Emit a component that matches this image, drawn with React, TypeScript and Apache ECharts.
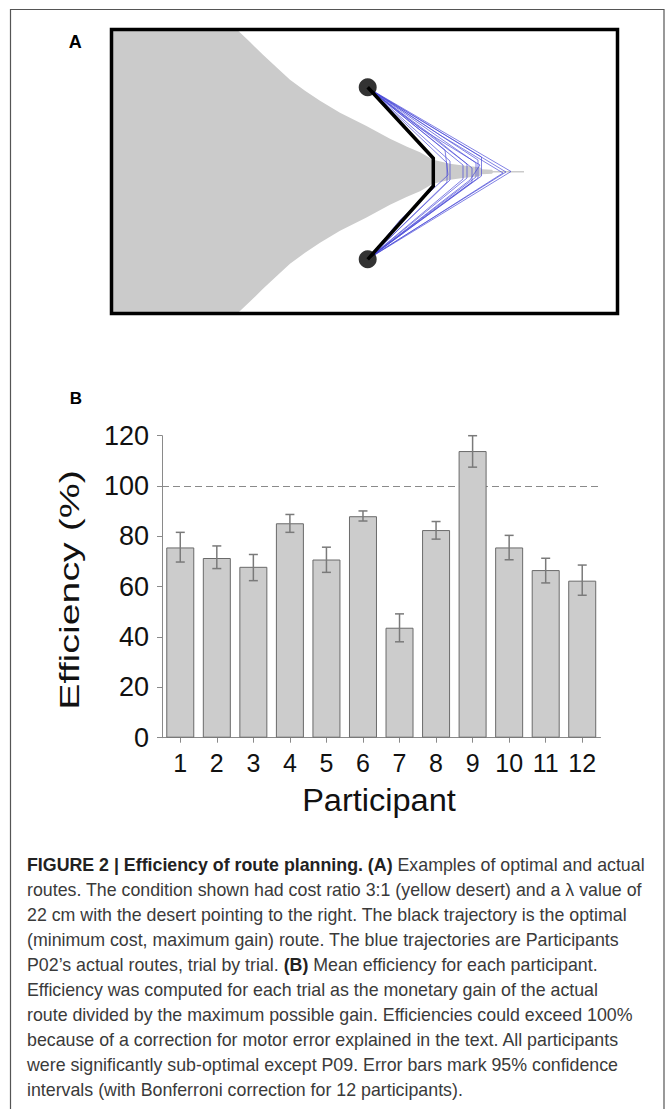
import React, { useEffect, useRef } from "react";
import * as echarts from "echarts";

// ---------- Panel B data ----------
const participants = ["1", "2", "3", "4", "5", "6", "7", "8", "9", "10", "11", "12"];
const efficiency = [75.6, 71.4, 67.9, 85.2, 70.8, 88.0, 43.7, 82.5, 113.9, 75.6, 66.6, 62.4];
const ciLow = [69.8, 67.2, 62.4, 81.6, 65.7, 86.1, 38.1, 78.9, 107.5, 70.7, 61.5, 56.6];
const ciHigh = [81.6, 76.2, 72.8, 88.7, 75.7, 90.1, 49.2, 85.9, 120.0, 80.4, 71.3, 68.6];
const yMin = 0;
const yMax = 120;
const yInterval = 20;
const optimalLevel = 100;

// ---------- Panel A data (field units) ----------
const fieldWidth = 506;
const fieldHeight = 284;
const fieldCenterY = 142.3;
const desertEdgeX = [125.3, 138.5, 151.5, 165.5, 178.5, 193.5, 208.5, 228.5, 254.5, 278.5, 295.5, 308.5, 321.5, 338.5, 353.5, 368.5, 370.5, 380.5, 381.5, 412.5];
const desertHalfWidth = [142.3, 129.8, 117, 104, 92, 81, 71, 59, 46, 33, 25, 19.5, 12, 8, 6, 4.5, 2.5, 2, 0.8, 0.8];
const startPoint = [256.2, 57.8];
const goalPoint = [256.2, 229.8];
const optimalRoute = [[256.2, 57.8], [321.8, 128.8], [321.8, 156.5], [256.2, 229.8]];
const actualRoutes = [
  [[256.5, 58.5], [399.5, 142], [256.5, 229.5]],
  [[257.5, 59.5], [394.5, 142.5], [257.5, 228.5]],
  [[256.5, 58.5], [328.5, 105.5], [391.5, 143.5], [256.5, 229.5]],
  [[256.5, 58.5], [370, 127.5], [370, 146.5], [256.5, 229.5]],
  [[256.5, 58.5], [366.5, 130.5], [366.5, 148.5], [256.5, 229.5]],
  [[256.5, 58.5], [364.5, 133.5], [364.5, 147.5], [257.5, 228.5]],
  [[256.5, 58.5], [355.5, 134.5], [355.5, 148.5], [256.5, 229.5]],
  [[256.5, 58.5], [351.5, 135.5], [351.5, 149.5], [256.5, 229.5]],
  [[256.5, 58.5], [338.5, 131.5], [338.5, 150.5], [256.5, 229.5]],
  [[256.5, 58.5], [335.5, 133.5], [335.5, 152.5], [256.5, 229.5]],
  [[256.5, 58.5], [308.5, 98.5], [368.5, 135.5], [358.5, 150.5], [256.5, 229.5]],
  [[256.5, 58.5], [333.5, 120.5], [336.5, 145.5], [288.5, 190.5], [256.5, 229.5]],
  [[256.5, 58.5], [318.5, 104.5], [360.5, 138.5], [360.5, 152.5], [300.5, 196.5], [256.5, 229.5]],
];

// ---------- Caption ----------
const captionLines = [
  "{b|FIGURE 2 | Efficiency of route planning. (A)} Examples of optimal and actual",
  "routes. The condition shown had cost ratio 3:1 (yellow desert) and a λ value of",
  "22 cm with the desert pointing to the right. The black trajectory is the optimal",
  "(minimum cost, maximum gain) route. The blue trajectories are Participants",
  "P02’s actual routes, trial by trial. {b|(B)} Mean efficiency for each participant.",
  "Efficiency was computed for each trial as the monetary gain of the actual",
  "route divided by the maximum possible gain. Efficiencies could exceed 100%",
  "because of a correction for motor error explained in the text. All participants",
  "were significantly sub-optimal except P09. Error bars mark 95% confidence",
  "intervals (with Bonferroni correction for 12 participants).",
];

const FONT = "'Liberation Sans', Arial, Helvetica, sans-serif";
const CAPTION_SIZE = 17.8;

// layout
const gridA = { left: 111.5, top: 29.5, width: fieldWidth, height: fieldHeight };
const gridB = { left: 162, top: 435.7, width: 438.5, height: 302 };

export default function App() {
  const ref = useRef<HTMLDivElement>(null);

  useEffect(() => {
    if (!ref.current) return;
    const chart = echarts.init(ref.current, undefined, { renderer: "svg" });

    const desertPolygon: number[][] = [[0, 0]];
    desertEdgeX.forEach((x, i) => desertPolygon.push([x, fieldCenterY - desertHalfWidth[i]]));
    desertEdgeX.slice().reverse().forEach((x, j) => {
      const i = desertEdgeX.length - 1 - j;
      desertPolygon.push([x, fieldCenterY + desertHalfWidth[i]]);
    });
    desertPolygon.push([0, fieldHeight]);

    const routeSeries = actualRoutes.map((r) => ({
      type: "line",
      xAxisIndex: 0,
      yAxisIndex: 0,
      data: r,
      showSymbol: false,
      symbol: "none",
      silent: true,
      z: 3,
      lineStyle: { color: "rgba(70,70,215,0.85)", width: 0.8 },
    }));

    const captionGraphics = captionLines.map((t, i) => ({
      type: "text",
      x: 27,
      y: 865.4 + i * 25,
      style: {
        text: t,
        fontSize: CAPTION_SIZE,
        fontFamily: FONT,
        fill: "#3a3a3a",
        verticalAlign: "middle",
        align: "left",
        rich: {
          b: { fontSize: CAPTION_SIZE, fontFamily: FONT, fontWeight: "bold", fill: "#222" },
        },
      },
    }));

    const option: any = {
      animation: false,
      backgroundColor: "#fff",
      grid: [
        { ...gridA, containLabel: false },
        { ...gridB, containLabel: false },
      ],
      xAxis: [
        { gridIndex: 0, type: "value", min: 0, max: fieldWidth, show: false },
        {
          gridIndex: 1,
          type: "category",
          data: participants,
          boundaryGap: true,
          axisLine: { show: true, lineStyle: { color: "#8a8a8a", width: 1 } },
          axisTick: { show: true, alignWithLabel: true, length: 5, lineStyle: { color: "#8a8a8a" } },
          axisLabel: { fontSize: 25, fontFamily: FONT, color: "#111", margin: 13, interval: 0 },
        },
      ],
      yAxis: [
        { gridIndex: 0, type: "value", min: 0, max: fieldHeight, inverse: true, show: false },
        {
          gridIndex: 1,
          type: "value",
          min: yMin,
          max: yMax,
          interval: yInterval,
          splitLine: { show: false },
          axisLine: { show: true, lineStyle: { color: "#8a8a8a", width: 1 } },
          axisTick: { show: true, length: 5, lineStyle: { color: "#8a8a8a" } },
          axisLabel: { fontSize: 27, fontFamily: FONT, color: "#111", margin: 13 },
        },
      ],
      series: [
        {
          type: "custom",
          xAxisIndex: 0,
          yAxisIndex: 0,
          data: [[0, 0]],
          silent: true,
          z: 1,
          renderItem: (params: any, api: any) => ({
            type: "polygon",
            shape: { points: desertPolygon.map((p) => api.coord(p)) },
            style: { fill: "#cbcbcb", stroke: "none" },
          }),
        },
        ...routeSeries,
        {
          type: "line",
          xAxisIndex: 0,
          yAxisIndex: 0,
          data: optimalRoute,
          showSymbol: false,
          symbol: "none",
          silent: true,
          z: 4,
          lineStyle: { color: "#000", width: 3.5, join: "miter" },
        },
        {
          type: "scatter",
          xAxisIndex: 0,
          yAxisIndex: 0,
          data: [startPoint, goalPoint],
          symbol: "circle",
          symbolSize: 18,
          silent: true,
          z: 5,
          itemStyle: { color: "#000" },
        },
        {
          type: "bar",
          xAxisIndex: 1,
          yAxisIndex: 1,
          data: efficiency,
          barWidth: 28,
          z: 2,
          silent: true,
          itemStyle: { color: "#cccccc", borderColor: "#6a6a6a", borderWidth: 1 },
          markLine: {
            silent: true,
            z: 1,
            symbol: "none",
            label: { show: false },
            lineStyle: { color: "#8a8a8a", type: [7, 4], width: 1.2 },
            data: [{ yAxis: optimalLevel }],
          },
        },
        {
          type: "custom",
          xAxisIndex: 1,
          yAxisIndex: 1,
          data: participants.map((_, i) => [i, ciLow[i], ciHigh[i]]),
          encode: { x: 0, y: [1, 2] },
          silent: true,
          z: 3,
          renderItem: (params: any, api: any) => {
            const xi = api.value(0);
            const lo = api.coord([xi, api.value(1)]);
            const hi = api.coord([xi, api.value(2)]);
            const hw = 4.5;
            const st = { stroke: "#7a7a7a", lineWidth: 1.5 };
            return {
              type: "group",
              children: [
                { type: "line", shape: { x1: hi[0], y1: hi[1], x2: lo[0], y2: lo[1] }, style: st },
                { type: "line", shape: { x1: hi[0] - hw, y1: hi[1], x2: hi[0] + hw, y2: hi[1] }, style: st },
                { type: "line", shape: { x1: lo[0] - hw, y1: lo[1], x2: lo[0] + hw, y2: lo[1] }, style: st },
              ],
            };
          },
        },
      ],
      graphic: [
        {
          type: "polyline",
          shape: { points: [[10.5, 1112], [10.5, 9.5], [664, 9.5], [664, 1112]] },
          style: { stroke: "#555", lineWidth: 1.2, fill: "none" },
          silent: true,
        },
        {
          type: "rect",
          z: 100,
          shape: { x: gridA.left, y: gridA.top, width: gridA.width, height: gridA.height },
          style: { stroke: "#000", lineWidth: 3.5, fill: "none" },
          silent: true,
        },
        {
          type: "text",
          x: 75.3,
          y: 42,
          style: { text: "A", fontSize: 18, fontWeight: "bold", fontFamily: FONT, fill: "#000", align: "center", verticalAlign: "middle" },
        },
        {
          type: "text",
          x: 76,
          y: 398,
          style: { text: "B", fontSize: 17, fontWeight: "bold", fontFamily: FONT, fill: "#000", align: "center", verticalAlign: "middle" },
        },
        {
          type: "text",
          x: 69,
          y: 590,
          rotation: Math.PI / 2,
          scaleX: 1.38,
          style: { text: "Efficiency (%)", fontSize: 28.5, fontFamily: FONT, fill: "#111", align: "center", verticalAlign: "middle" },
        },
        {
          type: "text",
          x: 379,
          y: 800,
          scaleX: 1.05,
          style: { text: "Participant", fontSize: 31, fontFamily: FONT, fill: "#111", align: "center", verticalAlign: "middle" },
        },
        ...captionGraphics,
      ],
    };

    chart.setOption(option);
    return () => chart.dispose();
  }, []);

  return (
    <div
      ref={ref}
      style={{ position: "absolute", left: 0, top: 0, width: 668, height: 1109, background: "#fff" }}
    />
  );
}
